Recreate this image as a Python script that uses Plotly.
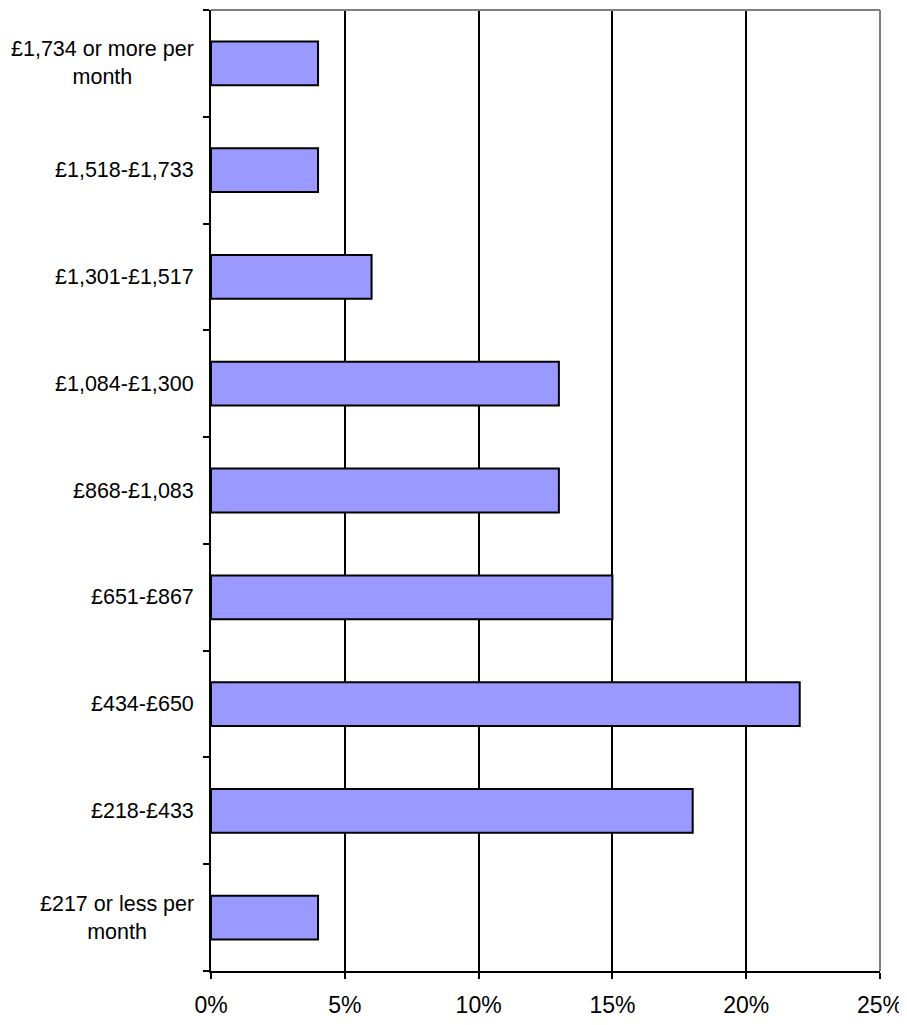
import plotly.graph_objects as go

# Income bands, bottom to top as drawn
bands = [
    "£217 or less per<br>month",
    "£218-£433",
    "£434-£650",
    "£651-£867",
    "£868-£1,083",
    "£1,084-£1,300",
    "£1,301-£1,517",
    "£1,518-£1,733",
    "£1,734 or more per<br>month",
]
shares = [4, 18, 22, 15, 13, 13, 6, 4, 4]  # percent
x_ticks = [0, 5, 10, 15, 20, 25]
x_labels = ["0%", "5%", "10%", "15%", "20%", "25%"]

FONT = "Liberation Sans, Arial, sans-serif"

fig = go.Figure(
    go.Bar(
        x=shares,
        y=bands,
        orientation="h",
        marker=dict(color="#9999ff", line=dict(color="black", width=2)),
        hoverinfo="x+y",
    )
)

# Category labels as centred multi-line annotations
for b in bands:
    fig.add_annotation(
        x=0, xref="paper", xanchor="right", xshift=-15,
        y=b, yref="y", yanchor="middle",
        text=b, showarrow=False, align="center",
        font=dict(family=FONT, size=21.5, color="black"),
    )

# Grey top/right frame
fig.add_shape(type="line", xref="paper", yref="paper", x0=0, x1=1, y0=1, y1=1,
              line=dict(color="#808080", width=2), layer="above")
fig.add_shape(type="line", xref="paper", yref="paper", x0=1, x1=1, y0=0, y1=1,
              line=dict(color="#808080", width=2), layer="above")

# page body has an 8px margin on each side, keep the figure inside the window
fig.update_layout(
    width=899, height=1009,
    margin=dict(l=203, r=27, t=2, b=46, autoexpand=False),
    plot_bgcolor="white", paper_bgcolor="white",
    bargap=0.59,
    showlegend=False,
    font=dict(family=FONT, color="black"),
)
fig.update_xaxes(
    range=[0, 25], tickvals=x_ticks, ticktext=x_labels,
    showgrid=True, gridcolor="black", gridwidth=2,
    showline=True, linecolor="black", linewidth=2,
    ticks="outside", ticklen=6, tickwidth=2, tickcolor="black",
    tickfont=dict(family=FONT, size=23, color="black"),
    ticklabelstandoff=6,
    zeroline=False, fixedrange=True, automargin=False,
)
fig.update_yaxes(
    categoryorder="array", categoryarray=bands,
    tickson="boundaries", ticks="outside", ticklen=6, tickwidth=2, tickcolor="black",
    showticklabels=False, showgrid=False,
    showline=True, linecolor="black", linewidth=2,
    fixedrange=True, automargin=False,
)

fig.write_html("out.html")
